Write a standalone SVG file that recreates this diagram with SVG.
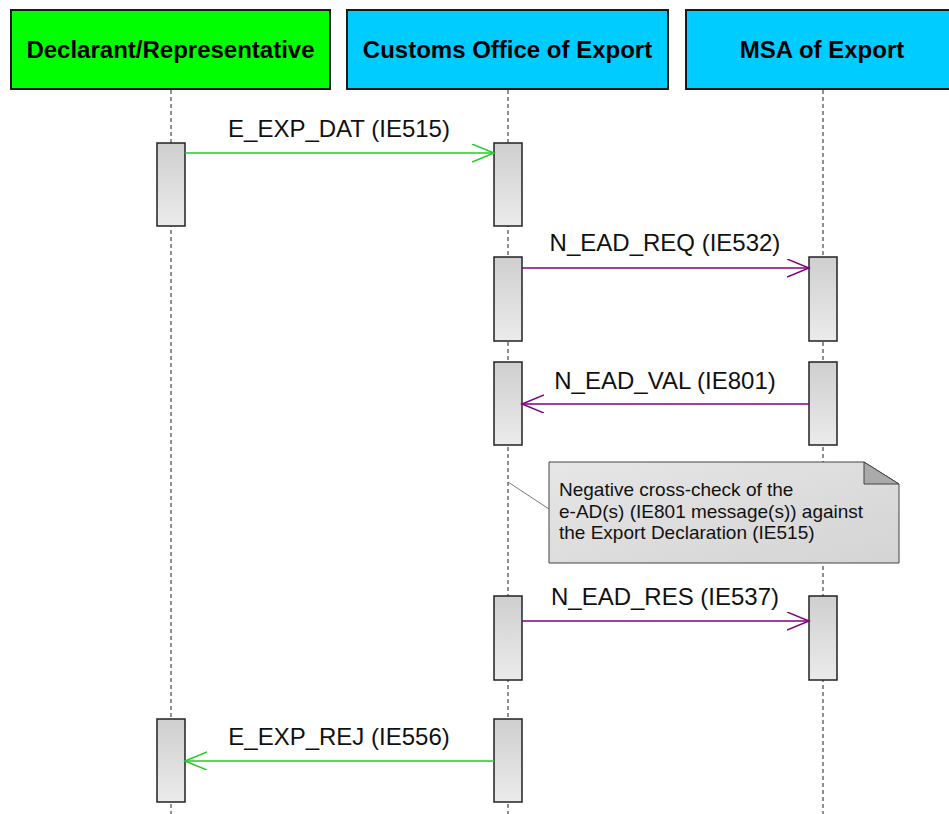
<svg xmlns="http://www.w3.org/2000/svg" width="949" height="814" viewBox="0 0 949 814">
<defs>
<linearGradient id="act" x1="0" y1="0" x2="0" y2="1"><stop offset="0" stop-color="#cfcfcf"/><stop offset="1" stop-color="#ebebeb"/></linearGradient>
<linearGradient id="note" x1="0" y1="0" x2="1" y2="1"><stop offset="0" stop-color="#e6e6e6"/><stop offset="1" stop-color="#d4d4d4"/></linearGradient>
<marker id="ag" markerWidth="24" markerHeight="20" refX="22" refY="9" orient="auto" markerUnits="userSpaceOnUse"><path d="M0,0 L22,9 L0,18" fill="none" stroke="#22cc22" stroke-width="1.5"/></marker>
<marker id="ap" markerWidth="24" markerHeight="20" refX="22" refY="9" orient="auto" markerUnits="userSpaceOnUse"><path d="M0,0 L22,9 L0,18" fill="none" stroke="#800080" stroke-width="1.5"/></marker>
</defs>
<style>
.hdr{stroke:#1a1a1a;stroke-width:2}
.ht{font-family:"Liberation Sans",Arial,sans-serif;font-weight:bold;font-size:24px;text-anchor:middle;fill:#000}
.life{stroke:#222;stroke-width:1;stroke-dasharray:4,3}
.act{fill:url(#act);stroke:#222;stroke-width:1.5}
.lbl{font-family:"Liberation Sans",Arial,sans-serif;font-size:24px;text-anchor:middle;fill:#111}
.g{stroke:#22cc22;stroke-width:1.5;fill:none}
.p{stroke:#800080;stroke-width:1.5;fill:none}
.nt{font-family:"Liberation Sans",Arial,sans-serif;font-size:19px;fill:#111}
</style>
<rect width="949" height="814" fill="#fff"/>
<g id="lifelines">
<line class="life" x1="171" y1="90" x2="171" y2="814"/>
<line class="life" x1="508" y1="90" x2="508" y2="814"/>
<line class="life" x1="823" y1="90" x2="823" y2="814"/>
</g>
<g id="declarant"><rect class="hdr" x="11" y="10" width="319" height="79" fill="#00ff00"/><text class="ht" x="170.5" y="58">Declarant/Representative</text></g>
<g id="customs"><rect class="hdr" x="347" y="10" width="321" height="79" fill="#00ccff"/><text class="ht" x="507.5" y="58">Customs Office of Export</text></g>
<g id="msa"><rect class="hdr" x="686" y="10" width="270" height="79" fill="#00ccff"/><text class="ht" x="822" y="58">MSA of Export</text></g>
<g id="activations">
<rect class="act" x="157" y="143" width="28" height="83"/>
<rect class="act" x="494" y="143" width="28" height="83"/>
<rect class="act" x="494" y="257" width="28" height="84"/>
<rect class="act" x="809" y="257" width="28" height="84"/>
<rect class="act" x="494" y="362" width="28" height="83"/>
<rect class="act" x="809" y="362" width="28" height="83"/>
<rect class="act" x="494" y="596" width="28" height="84"/>
<rect class="act" x="809" y="596" width="28" height="84"/>
<rect class="act" x="157" y="719" width="28" height="83"/>
<rect class="act" x="494" y="719" width="28" height="83"/>
</g>
<g id="note">
<line x1="508" y1="482" x2="549" y2="509" stroke="#555" stroke-width="0.8"/>
<path d="M549,462 H864 L899,484 V563 H549 Z" fill="url(#note)" stroke="#444" stroke-width="1"/>
<path d="M864,462 V484 H899 Z" fill="#aaa" stroke="#444" stroke-width="1"/>
<text class="nt" x="559" y="496">Negative cross-check of the</text>
<text class="nt" x="559" y="518">e-AD(s) (IE801 message(s)) against</text>
<text class="nt" x="559" y="539">the Export Declaration (IE515)</text>
</g>
<g id="connectors">
<line class="g" x1="185" y1="153" x2="494" y2="153" marker-end="url(#ag)"/>
<text class="lbl" x="339" y="137">E_EXP_DAT (IE515)</text>
<line class="p" x1="522" y1="268" x2="809" y2="268" marker-end="url(#ap)"/>
<text class="lbl" x="665" y="251">N_EAD_REQ (IE532)</text>
<line class="p" x1="809" y1="404" x2="522" y2="404" marker-end="url(#ap)"/>
<text class="lbl" x="665" y="389">N_EAD_VAL (IE801)</text>
<line class="p" x1="522" y1="621" x2="809" y2="621" marker-end="url(#ap)"/>
<text class="lbl" x="665" y="605">N_EAD_RES (IE537)</text>
<line class="g" x1="494" y1="761" x2="185" y2="761" marker-end="url(#ag)"/>
<text class="lbl" x="339" y="745">E_EXP_REJ (IE556)</text>
</g>
</svg>
